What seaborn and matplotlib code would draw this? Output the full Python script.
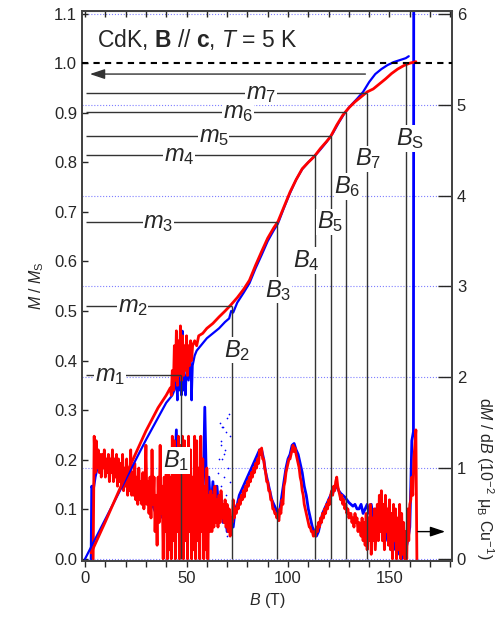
import numpy as np
import matplotlib
matplotlib.use("Agg")
import matplotlib.pyplot as plt
from matplotlib.ticker import MultipleLocator, FormatStrFormatter
import seaborn as sns

# magnetization M / Ms, blue sweep
blue_m_b = [0, 10, 20, 30, 40, 43, 44, 45, 45.5, 46, 46.5, 47, 47.5, 48, 48.5,
            49, 49.5, 50, 51, 52, 52.5, 53, 54, 55, 57, 60, 63, 66, 69, 71,
            72, 73, 75, 78, 81, 84, 87, 90, 93, 95, 98, 101, 104, 107, 110,
            113, 116, 119, 122, 125, 128, 131, 134, 137, 140, 143, 146, 149,
            152, 155, 158, 159.5]
blue_m = [0, 0.08, 0.16, 0.24, 0.315, 0.33, 0.34, 0.36, 0.32, 0.38, 0.34, 0.42,
          0.33, 0.46, 0.34, 0.37, 0.33, 0.38, 0.36, 0.4, 0.32, 0.39, 0.41, 0.42,
          0.43, 0.445, 0.455, 0.465, 0.478, 0.485, 0.5, 0.497, 0.517, 0.536,
          0.556, 0.586, 0.613, 0.641, 0.663, 0.676, 0.708, 0.738, 0.765, 0.786,
          0.8, 0.812, 0.826, 0.841, 0.858, 0.88, 0.9, 0.915, 0.928, 0.942, 0.962,
          0.978, 0.988, 0.996, 1.002, 1.006, 1.01, 1.014]

# magnetization M / Ms, red sweep
red_m_b = [3, 10, 20, 30, 36, 40, 42, 42.5, 43, 43.5, 44, 44.5, 45, 45.5, 46,
           46.5, 47, 47.5, 48, 48.5, 49, 49.5, 50, 50.5, 51, 51.5, 52, 52.5, 53,
           54, 55, 56, 58, 60, 63, 66, 69, 72, 75, 78, 81, 84, 87, 90, 93, 95,
           98, 101, 104, 107, 110, 113, 116, 119, 121, 124, 127, 130, 133, 136,
           139, 142, 145, 148, 151, 154, 157, 160, 163]
red_m = [0.012, 0.075, 0.168, 0.258, 0.305, 0.33, 0.345, 0.33, 0.38, 0.34, 0.43,
         0.36, 0.46, 0.35, 0.44, 0.37, 0.47, 0.36, 0.45, 0.37, 0.43, 0.38, 0.45,
         0.37, 0.43, 0.39, 0.44, 0.4, 0.43, 0.44, 0.43, 0.45, 0.455, 0.465,
         0.475, 0.488, 0.5, 0.513, 0.527, 0.543, 0.562, 0.592, 0.62, 0.647, 0.668,
         0.68, 0.71, 0.74, 0.765, 0.787, 0.8, 0.812, 0.828, 0.842, 0.852, 0.875,
         0.895, 0.91, 0.922, 0.932, 0.942, 0.948, 0.958, 0.968, 0.979, 0.988,
         0.995, 1.0, 1.003]

# dM/dB (1e-2 muB/Cu per T), red sweep, sampled every 0.5 T from 4 T
red_d_b = np.arange(4.0, 164.0, 0.5)
red_d = [
    0.0, 1.35, 0.95, 1.3, 1.0, 1.2, 0.95, 1.15, 0.9, 1.15, 1.0, 1.2, 0.9, 1.1, 0.95, 1.15, 0.85, 1.1, 0.95, 1.2,
    0.85, 1.1, 0.9, 1.15, 0.8, 1.1, 0.85, 1.05, 0.8, 1.15, 0.75, 1.0, 0.8, 1.1, 0.7, 1.0, 0.75, 1.2, 0.7, 0.95,
    0.7, 1.05, 0.65, 0.9, 0.6, 1.0, 0.65, 0.85, 0.6, 0.95, 0.55, 0.8, 1.25, 0.6, 0.85, 0.5, 0.9, 0.45, 1.2, 0.6,
    0.9, 0.3, 0.7, 0.15, 0.9, 0.4, 1.25, 0.5, 0.8, 0.0, 0.9, 0.3, 1.1, 0.0, 1.2, 0.1, 0.9, 0.0, 1.35, 0.2,
    1.3, 0.0, 1.1, 0.3, 1.35, 0.0, 1.25, 0.1, 1.35, 0.0, 1.3, 0.2, 1.1, 0.0, 1.35, 0.3, 1.2, 0.0, 0.9, 0.1,
    1.35, 0.0, 1.3, 0.2, 1.0, 0.0, 1.35, 0.3, 1.1, 0.0, 0.8, 0.1, 1.0, 0.0, 0.7, 0.3, 0.75, 0.3, 0.7, 0.35,
    0.8, 0.4, 0.65, 0.35, 0.7, 0.4, 0.75, 0.45, 0.6, 0.4, 0.65, 0.35, 0.6, 0.3, 0.55, 0.25, 0.45, 0.4, 0.65, 0.45,
    0.55, 0.5, 0.6, 0.55, 0.65, 0.6, 0.7, 0.65, 0.75, 0.68, 0.8, 0.75, 0.85, 0.8, 0.9, 0.85, 0.95, 0.9, 1.0, 0.95,
    1.05, 1.0, 1.1, 1.05, 1.2, 1.15, 1.22, 1.1, 1.1, 1.0, 0.95, 0.85, 0.85, 0.75, 0.75, 0.65, 0.65, 0.55, 0.55, 0.5,
    0.5, 0.45, 0.48, 0.42, 0.55, 0.5, 0.65, 0.6, 0.8, 0.85, 0.95, 1.0, 1.05, 1.1, 1.1, 1.15, 1.2, 1.25, 1.18, 1.22,
    1.15, 1.1, 1.05, 1.0, 0.9, 0.85, 0.75, 0.7, 0.6, 0.55, 0.5, 0.45, 0.4, 0.35, 0.35, 0.3, 0.3, 0.25, 0.3, 0.25,
    0.35, 0.3, 0.4, 0.35, 0.45, 0.4, 0.5, 0.45, 0.55, 0.5, 0.6, 0.55, 0.65, 0.6, 0.7, 0.75, 0.7, 0.8, 0.75, 0.85,
    0.9, 0.8, 0.75, 0.7, 0.65, 0.7, 0.6, 0.65, 0.55, 0.6, 0.5, 0.55, 0.45, 0.5, 0.5, 0.4, 0.45, 0.35, 0.5, 0.4,
    0.45, 0.3, 0.4, 0.35, 0.25, 0.45, 0.2, 0.4, 0.15, 0.5, 0.1, 0.45, 0.2, 0.6, 0.05, 0.45, 0.2, 0.55, 0.1, 0.35,
    0.6, 0.2, 0.7, 0.3, 0.75, 0.2, 0.6, 0.1, 0.7, 0.3, 0.55, 0.15, 0.65, 0.1, 0.5, 0.0, 0.6, 0.2, 0.55, 0.0,
    0.45, 0.1, 0.6, 0.0, 0.5, 0.05, 0.4, 0.0, 0.3, 0.0, 0.55, 0.2, 0.6, 0.65, 0.9, 0.7, 1.1, 1.25, 1.42, 0.0,
]

# dM/dB, blue sweep (1 T steps from 5 T, plus start and end of the trace)
blue_d_b = [3.0, 3.3, 4.0] + list(range(5, 161)) + [160.5, 161, 161.8, 162.0]
blue_d = [
    0.0, 0.8, 0.75,
    0.9, 1.0, 1.05, 1.0, 1.05, 1.0, 1.0, 0.95, 1.0, 0.95, 0.95, 0.9, 0.9, 0.9, 0.85, 0.85, 0.85, 0.8, 0.8, 0.8,
    0.75, 0.75, 0.75, 0.7, 0.7, 0.75, 0.65, 0.7, 0.6, 0.55, 0.5, 0.6, 0.45, 0.5, 0.4, 0.5, 0.3, 0.6, 0.2, 0.9,
    1.42, 0.3, 0.8, 0.1, 0.9, 0.2, 1.0, 0.3, 0.8, 0.2, 0.9, 0.4, 1.0, 0.5, 1.67, 0.6, 0.9, 0.5, 0.85, 0.45,
    0.8, 0.5, 0.7, 0.4, 0.6, 0.3, 0.35, 0.45, 0.35, 0.55, 0.6, 0.7, 0.75, 0.8, 0.85, 0.9, 0.95, 1.0, 1.05, 1.1,
    1.15, 1.2, 1.2, 1.1, 0.95, 0.85, 0.75, 0.65, 0.6, 0.55, 0.5, 0.55, 0.7, 0.85, 1.0, 1.1, 1.15, 1.25, 1.27, 1.2,
    1.15, 1.05, 0.95, 0.8, 0.7, 0.55, 0.45, 0.35, 0.3, 0.25, 0.3, 0.4, 0.5, 0.55, 0.6, 0.65, 0.7, 0.72, 0.78, 0.8,
    0.75, 0.72, 0.7, 0.68, 0.65, 0.62, 0.6, 0.58, 0.6, 0.55, 0.55, 0.6, 0.5, 0.55, 0.6, 0.5, 0.6, 0.45, 0.55, 0.4,
    0.5, 0.3, 0.45, 0.2, 0.4, 0.15, 0.3, 0.1, 0.25, 0.05, 0.2, 0.0, 0.15, 0.1, 0.2, 0.35,
    0.8, 1.3, 1.4, 8.0,
]

# scattered blue points around 65-72 T
blue_dots_b = [65.5, 66.0, 66.5, 66.8, 67.0, 67.0, 67.5, 67.7, 68.0, 68.0, 68.3,
               68.5, 69.0, 69.0, 69.3, 69.5, 70.0, 70.0, 70.2, 70.5, 70.8, 71.0,
               71.2, 71.5]
blue_dots = [0.95, 1.1, 1.5, 1.25, 1.3, 0.8, 1.1, 1.45, 1.45, 0.6, 1.15, 0.9,
             1.2, 0.35, 1.4, 0.7, 1.55, 0.25, 0.45, 1.0, 1.6, 0.5, 0.85, 1.35]

# plateaus and critical fields
m_names = ["1", "2", "3", "4", "5", "6", "7"]
m_vals = [0.37, 0.51, 0.68, 0.815, 0.853, 0.902, 0.94]
b_crit = [47.3, 72.2, 94.8, 113.3, 121.2, 128.4, 138.9]
b_sat = 158.3
m_arrow = 0.978

sns.set_style("ticks")
plt.rcParams["font.family"] = ["Liberation Sans", "DejaVu Sans"]
plt.rcParams["mathtext.fontset"] = "custom"
plt.rcParams["mathtext.rm"] = "Liberation Sans"
plt.rcParams["mathtext.it"] = "Liberation Sans:italic"
plt.rcParams["mathtext.bf"] = "Liberation Sans:bold"

fig = plt.figure(figsize=(5, 6.17), dpi=100)
ax = fig.add_axes([0.164, 0.091, 0.74, 0.891])
ax2 = ax.twinx()
ax.set_zorder(ax2.get_zorder() + 1)
ax.patch.set_visible(False)

# right axis: grid + dM/dB
for v in range(0, 7):
    ax2.axhline(v, color="#7f7fff", ls=":", lw=0.8, zorder=0)
sns.lineplot(x=blue_d_b, y=blue_d, ax=ax2, color="#0000ff", lw=2.0,
             estimator=None, sort=False)
ax2.scatter(blue_dots_b, blue_dots, s=1.5, color="#0000ff", lw=0)
sns.lineplot(x=red_d_b, y=red_d, ax=ax2, color="#ff0000", lw=2.0,
             estimator=None, sort=False)
ax2.annotate("", xy=(178.8, 0.3), xytext=(162.6, 0.3),
             arrowprops=dict(arrowstyle="-|>,head_length=0.9,head_width=0.3",
                             color="black", lw=1, mutation_scale=10))

# left axis: magnetization
sns.lineplot(x=blue_m_b, y=blue_m, ax=ax, color="#0000ff", lw=1.6,
             estimator=None, sort=False)
sns.lineplot(x=red_m_b, y=red_m, ax=ax, color="#ff0000", lw=2.0,
             estimator=None, sort=False)

ax.axhline(1.0, color="black", ls=(0, (3, 2.5)), lw=1.5, zorder=3)
line_c = "#333333"
for mv, bc in zip(m_vals, b_crit):
    ax.hlines(mv, 0.5, bc, color=line_c, lw=1, zorder=3)
    ax.vlines(bc, 0, mv, color=line_c, lw=1, zorder=3)
ax.vlines(b_sat, 0, 1.0, color=line_c, lw=1, zorder=3)
ax.annotate("", xy=(1.0, m_arrow), xytext=(139.5, m_arrow),
            arrowprops=dict(arrowstyle="-|>,head_length=0.9,head_width=0.3",
                            color=line_c, lw=1, mutation_scale=10))

box = dict(facecolor="white", edgecolor="none", pad=0.5)
m_pos = [(12.3, 0.358), (23.4, 0.498), (36.2, 0.668), (46.3, 0.803),
         (63.4, 0.841), (75.5, 0.890), (86.7, 0.928)]
for name, (x, y) in zip(m_names, m_pos):
    ax.text(x, y, rf"$m_{{{name}}}$", fontsize=17, ha="center", va="baseline",
            bbox=box, zorder=6)
b_pos = [(44.8, 0.185), (75.0, 0.408), (95.0, 0.529), (109.0, 0.589),
         (120.7, 0.667), (129.3, 0.738), (139.4, 0.794)]
for name, (x, y) in zip(m_names, b_pos):
    ax.text(x, y, rf"$B_{{{name}}}$", fontsize=17, ha="center", va="baseline",
            bbox=box, zorder=6)
ax.text(160.0, 0.835, r"$B_\mathrm{S}$", fontsize=17, ha="center",
        va="baseline", bbox=box, zorder=6)
ax.text(5.9, 1.033, r"CdK, $\mathbf{B}$ // $\mathbf{c}$, $T$ = 5 K",
        fontsize=16.5, ha="left", va="baseline", zorder=6)

# axes
ax.set_xlim(-1.5, 180.8)
ax.set_ylim(-0.004, 1.105)
ax2.set_ylim(-0.022, 6.03)
ax.xaxis.set_major_locator(MultipleLocator(50))
ax.xaxis.set_minor_locator(MultipleLocator(10))
ax.yaxis.set_major_locator(MultipleLocator(0.1))
ax.yaxis.set_major_formatter(FormatStrFormatter("%.1f"))
ax2.yaxis.set_major_locator(MultipleLocator(1))

ax.tick_params(axis="x", which="both", direction="out", length=4, width=1,
               labelsize=12, pad=3)
ax.tick_params(axis="y", which="major", direction="in", length=4, width=1,
               labelsize=12)
ax2.tick_params(axis="y", which="major", direction="in", length=10, width=1,
                labelsize=12)
top = ax.secondary_xaxis("top")
top.xaxis.set_major_locator(MultipleLocator(10))
top.tick_params(axis="x", direction="in", length=4, width=1, labeltop=False)

for a in (ax, ax2):
    for s in a.spines.values():
        s.set_color("#444444")
        s.set_linewidth(1.3)
top.spines["top"].set_color("#444444")

ax.set_xlabel(r"$B$ (T)", fontsize=11.5, labelpad=4)
ax.set_ylabel(r"$M$ / $M_\mathrm{S}$", fontsize=11.5, labelpad=6)
ax2.set_ylabel(r"d$M$ / d$B$ (10$^{-2}$ μ$_\mathrm{B}$ Cu$^{-1}$)",
               fontsize=11.5, rotation=270, va="center")
ax2.yaxis.set_label_coords(1.09, 0.15)

fig.savefig("out.png", dpi=100, facecolor="white")
